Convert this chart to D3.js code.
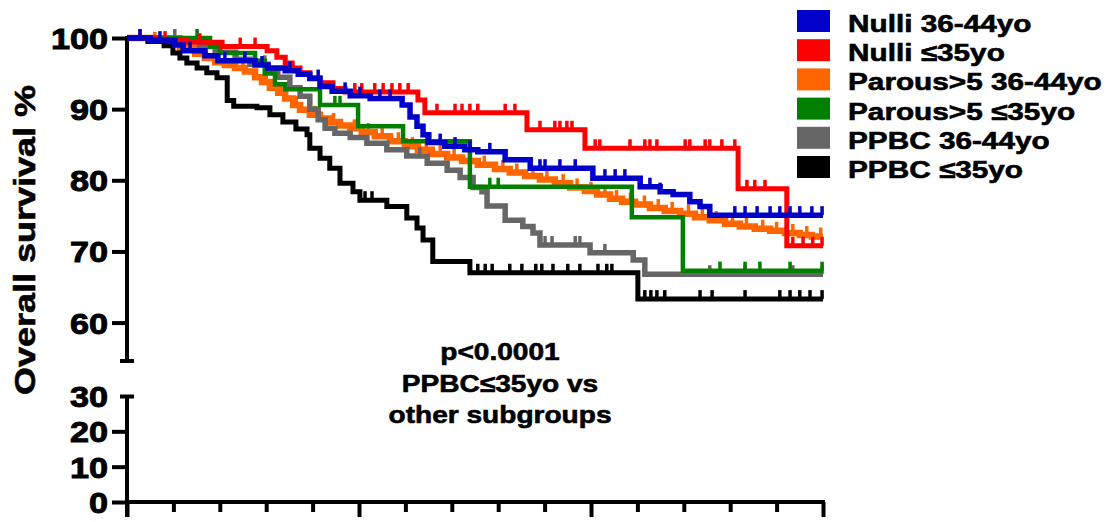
<!DOCTYPE html>
<html><head><meta charset="utf-8">
<script src="https://cdn.jsdelivr.net/npm/d3@7"></script>
<style>
body{margin:0;background:#fff}
svg{display:block}
text{font-family:"Liberation Sans",Arial,Helvetica,sans-serif;font-weight:bold;fill:#000;stroke:#000;stroke-width:0.6px}
</style>
</head><body>
<svg id="chart" width="1119" height="522"></svg>
<script>
// ---------- DATA ----------
const seriesNames = ["Nulli 36-44yo", "Nulli \u226435yo", "Parous>5 36-44yo", "Parous>5 \u226435yo", "PPBC 36-44yo", "PPBC \u226435yo"];
const seriesColors = ["#0000C8", "#FF0000", "#FF6600", "#007F00", "#666666", "#000000"];

// step points: [time (years), overall survival %]
const nulli3644Steps = [[0,100],[0.50,99.7],[1.03,99.0],[1.21,98.2],[1.68,97.5],[1.96,96.8],[2.76,96.2],[3.04,95.8],[3.41,95.4],[3.69,94.9],[3.94,94.3],[4.16,93.2],[4.42,92.5],[4.81,91.9],[5.24,91.5],[5.93,90.6],[6.10,88.9],[6.25,87.6],[6.38,86.4],[6.49,85.3],[6.85,84.8],[7.28,84.3],[7.56,84.0],[8.15,82.9],[8.69,81.7],[10.04,80.3],[11.06,79.1],[11.49,78.4],[11.77,78.0],[12.13,77.0],[12.35,76.3],[12.56,75.1]];
const nulli35Steps = [[0,100],[0.65,99.7],[1.29,99.4],[2.05,98.8],[3.02,98.2],[3.23,97.3],[3.41,96.5],[3.56,95.8],[3.73,95.1],[3.94,94.4],[4.16,93.7],[4.44,92.9],[4.70,92.4],[6.27,91.3],[6.42,89.5],[8.62,87.1],[9.87,84.5],[13.17,78.8],[14.22,70.8]];
const parous3644Steps = [[0,100],[0.50,99.6],[0.82,99.2],[1.14,98.6],[1.47,97.8],[1.68,97.2],[1.90,96.6],[2.11,96.2],[2.33,95.8],[2.54,95.3],[2.76,94.5],[2.91,93.8],[3.08,93.0],[3.26,92.3],[3.41,91.5],[3.58,90.6],[3.73,89.9],[3.94,89.2],[4.16,88.7],[4.37,88.2],[4.59,87.7],[4.81,87.3],[5.06,86.8],[5.34,86.2],[5.67,85.5],[5.99,84.8],[6.27,84.3],[6.57,83.7],[6.90,83.2],[7.22,82.7],[7.56,82.2],[7.93,81.6],[8.25,81.1],[8.58,80.6],[8.90,80.1],[9.22,79.6],[9.55,79.0],[9.87,78.5],[10.13,78.0],[10.41,77.4],[10.67,77.0],[10.95,76.6],[11.27,76.1],[11.59,75.7],[11.92,75.3],[12.24,74.8],[12.56,74.4],[12.89,73.9],[13.21,73.5],[13.53,73.2],[13.86,72.9],[14.18,72.6],[14.50,72.3],[14.76,72.1]];
const parous35Steps = [[0,100],[1.79,98.8],[2.00,97.9],[2.76,96.8],[2.97,95.0],[3.19,93.5],[3.41,92.8],[4.16,90.6],[4.98,87.6],[5.95,85.5],[7.39,79.1],[10.88,74.8],[11.98,67.3]];
const ppbc3644Steps = [[0,100],[1.14,99.5],[1.57,98.8],[1.90,98.0],[2.33,97.0],[2.65,96.3],[3.04,95.6],[3.25,94.5],[3.51,93.0],[3.73,91.8],[3.94,90.0],[4.12,88.5],[4.27,87.3],[4.48,86.6],[4.81,86.0],[5.17,85.2],[5.60,84.3],[6.03,83.4],[6.47,82.4],[6.90,81.4],[7.18,80.4],[7.46,79.0],[7.65,78.4],[7.76,76.4],[8.15,74.4],[8.53,73.5],[8.75,72.6],[8.90,70.9],[9.98,69.8],[10.91,68.8],[11.16,66.8]];
const ppbc35Steps = [[0,100],[0.45,99.5],[0.80,98.9],[0.99,97.9],[1.14,97.2],[1.29,96.5],[1.51,95.8],[1.72,95.1],[1.94,94.4],[2.16,91.2],[2.30,90.4],[2.80,90.2],[3.08,89.2],[3.36,88.2],[3.64,87.2],[3.88,86.4],[3.94,84.5],[4.16,83.1],[4.37,81.7],[4.59,79.6],[4.87,78.4],[5.02,77.2],[5.60,76.3],[6.03,74.7],[6.25,73.3],[6.38,71.6],[6.59,68.6],[7.39,67.0],[11.01,63.3]];

// censored observations (years)
const nulli3644Censor = [0.28,0.71,1.36,2.11,2.54,2.91,3.51,4.12,4.70,5.02,5.45,5.67,6.75,7.07,7.39,7.82,8.15,8.90,9.01,9.33,9.66,10.30,10.52,10.73,11.27,11.49,12.13,13.10,13.32,13.58,13.86,14.07,14.29,14.50,14.76,14.98];
const nulli35Censor = [0.28,0.82,1.57,2.44,2.76,4.91,5.06,5.34,5.52,5.71,5.88,6.06,6.68,7.07,7.22,7.39,7.56,8.15,8.36,8.90,9.22,9.33,9.48,9.59,10.09,10.19,10.84,11.16,11.27,11.42,12.03,12.13,12.46,12.56,12.82,13.10,13.36,13.53,13.75,14.35,14.57,14.78,14.98];
const parous3644Censor = [0.6,1.3,1.95,2.5,3.0,3.35,3.65,4.05,4.45,4.9,5.2,5.5,5.85,6.15,6.45,6.75,7.05,7.4,7.7,8.1,8.4,8.75,9.05,9.4,9.7,10.0,10.3,10.55,10.85,11.15,11.45,11.75,12.1,12.4,12.7,13.05,13.35,13.7,14.0,14.35,14.65,14.95];
const parous35Censor = [1.51,4.48,4.59,6.53,7.82,8.00,12.78,13.32,13.64,14.29,14.98];
const ppbc3644Censor = [1.03,2.37,2.97,6.31,9.01,9.16,9.66,9.76,10.30,12.56,13.32,14.35,14.98];
const ppbc35Censor = [5.13,5.28,7.56,7.72,7.87,8.25,8.51,8.81,8.94,9.18,9.50,9.76,10.15,10.34,10.45,11.16,11.29,11.42,11.59,12.35,12.61,13.32,14.07,14.29,14.50,14.72,14.98];

const endTime = 15;
const xTickValues = [0,1,2,3,4,5,6,7,8,9,10,11,12,13,14,15];
const xMajorTicks = [0,5,10,15];
const upperTicks = [60,70,80,90,100];
const lowerTicks = [0,10,20,30];
const yTitle = "Overall survival %";
const pLines = ["p<0.0001", "PPBC\u226435yo vs", "other subgroups"];

const allSteps = [nulli3644Steps, nulli35Steps, parous3644Steps, parous35Steps, ppbc3644Steps, ppbc35Steps];
const allCensor = [nulli3644Censor, nulli35Censor, parous3644Censor, parous35Censor, ppbc3644Censor, ppbc35Censor];

// ---------- LAYOUT ----------
const svg = d3.select("#chart");
const x = d3.scaleLinear().domain([0, endTime]).range([127, 823]);
const yUp = d3.scaleLinear().domain([54.6, 100]).range([361, 38]);
const yLow = d3.scaleLinear().domain([0, 30]).range([502, 396]);
const AX = 4, SX = 1.18;

// axes lines
svg.append("line").attr("x1",127).attr("x2",127).attr("y1",36).attr("y2",361).attr("stroke","#000").attr("stroke-width",AX);
svg.append("line").attr("x1",120).attr("x2",134).attr("y1",361).attr("y2",361).attr("stroke","#000").attr("stroke-width",AX);
svg.append("line").attr("x1",127).attr("x2",127).attr("y1",396).attr("y2",517).attr("stroke","#000").attr("stroke-width",AX);

function styleYAxis(g, scale, ticks, capTick) {
  g.call(d3.axisLeft(scale).tickValues(ticks).tickSize(15).tickSizeOuter(0));
  g.select(".domain").remove();
  g.selectAll(".tick line").attr("stroke","#000").attr("stroke-width",AX);
  g.selectAll(".tick text").each(function(d){
    d3.select(this).attr("x",0).attr("dy","0.36em")
      .attr("transform",`translate(-19,0) scale(${SX},1)`)
      .attr("font-size",29).attr("font-family",null).attr("fill","#000")
      .style("stroke","#000").style("stroke-width","0.9px");
  });
  if (capTick !== undefined) {
    g.selectAll(".tick").filter(d => d === capTick).select("line").attr("x1",-7).attr("x2",7);
  }
}
styleYAxis(svg.append("g").attr("transform","translate(127,0)"), yUp, upperTicks);
styleYAxis(svg.append("g").attr("transform","translate(127,0)"), yLow, lowerTicks, 30);

// x axis
const gx = svg.append("g").attr("transform","translate(0,502)");
gx.call(d3.axisBottom(x).tickValues(xTickValues).tickFormat("").tickSizeOuter(0));
gx.select(".domain").remove();
gx.selectAll(".tick line").attr("stroke","#000").attr("stroke-width",AX)
  .attr("y2", d => xMajorTicks.includes(d) ? 15 : 10);
svg.append("line").attr("x1",125).attr("x2",825).attr("y1",502).attr("y2",502).attr("stroke","#000").attr("stroke-width",AX);

// ---------- CURVES ----------
function survivalAt(steps, t) {
  let v = steps[0][1];
  for (const s of steps) { if (s[0] <= t) v = s[1]; }
  return v;
}
const line = d3.line().x(d => x(d[0])).y(d => yUp(d[1])).curve(d3.curveStepAfter);
const drawOrder = [2, 4, 3, 5, 1, 0];
const widths = [5.5, 5, 6.5, 4.5, 5.5, 5];
drawOrder.forEach(i => {
  const steps = allSteps[i];
  const pts = steps.concat([[endTime, steps[steps.length-1][1]]]);
  const g = svg.append("g");
  g.append("path").attr("d", line(pts)).attr("fill","none")
    .attr("stroke", seriesColors[i]).attr("stroke-width", widths[i]).attr("stroke-linejoin","miter");
  g.selectAll("line.c").data(allCensor[i]).enter().append("line")
    .attr("x1", d => x(d)).attr("x2", d => x(d))
    .attr("y1", d => yUp(survivalAt(steps, d)) - 9)
    .attr("y2", d => yUp(survivalAt(steps, d)))
    .attr("stroke", seriesColors[i]).attr("stroke-width", 3.5);
});

// ---------- LEGEND ----------
const lg = svg.append("g");
seriesNames.forEach((name, i) => {
  const top = 10 + i * 29.2;
  lg.append("rect").attr("x",797).attr("y",top).attr("width",33).attr("height",22).attr("fill",seriesColors[i]);
  lg.append("text").attr("transform",`translate(848,${top+22}) scale(1.24,1)`)
    .attr("font-size",24).text(name);
});

// ---------- TEXT ----------
svg.append("text").attr("transform","translate(35,240) rotate(-90) scale(1.2,1)")
  .attr("text-anchor","middle").attr("font-size",30).text(yTitle);
pLines.forEach((s, i) => {
  svg.append("text").attr("transform",`translate(500,${360 + i*31.5}) scale(1.17,1)`)
    .attr("text-anchor","middle").attr("font-size",24).text(s);
});
</script>
</body></html>
